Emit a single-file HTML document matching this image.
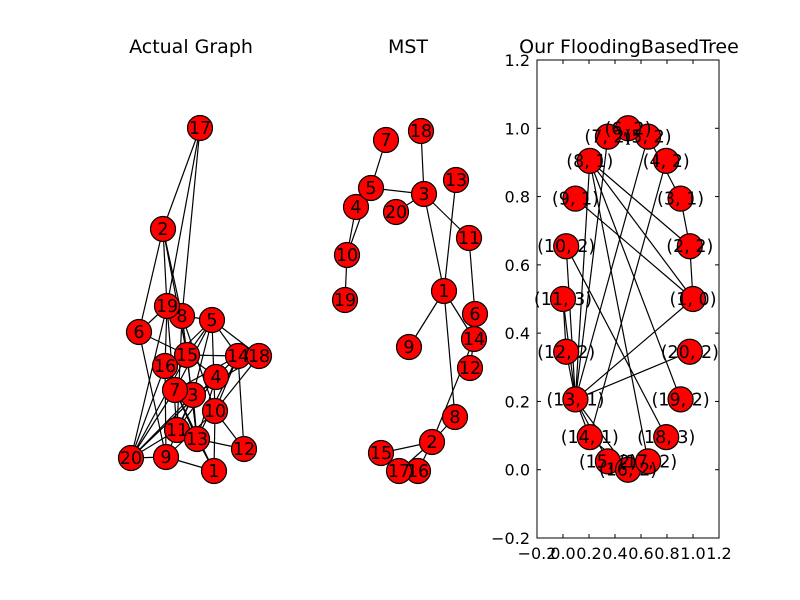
<!DOCTYPE html>
<html><head><meta charset="utf-8"><style>
body{margin:0;background:#fff}
svg{display:block;font-family:"DejaVu Sans","Liberation Sans",sans-serif}
</style></head><body>
<svg id="c" width="800" height="600" viewBox="0 0 800 600">
<rect width="800" height="600" fill="#fff"/>
<text x="191" y="53" font-size="19" text-anchor="middle">Actual Graph</text>
<text x="408" y="53" font-size="19" text-anchor="middle">MST</text>
<text x="629" y="53" font-size="19" text-anchor="middle">Our FloodingBasedTree</text>
<g id="g1"></g><g id="g2"></g><g id="g3"></g>
</svg>
<script>
// Panel 1: actual graph (layout positions in px)
const p1Nodes = {17:[200,128],2:[163,229],19:[167,306],8:[182,316],5:[212,320],6:[139,332],15:[187,355],14:[238,356],18:[259,356],16:[165,366],4:[216,377],7:[175,390],3:[193,395],10:[215,411],11:[177,430],13:[197,439],12:[244,449],20:[131,458],9:[166,457],1:[214,471]};
const p1Edges = [[17,2],[17,19],[17,8],[2,6],[2,19],[2,8],[2,15],[6,19],[6,15],[6,9],[19,16],[19,11],[8,15],[8,13],[8,10],[5,14],[5,18],[5,15],[5,16],[5,10],[5,7],[5,3],[5,8],[15,14],[15,4],[15,20],[15,13],[14,4],[14,10],[14,13],[14,12],[18,3],[18,10],[16,20],[16,13],[4,11],[4,20],[4,13],[7,20],[7,13],[7,1],[3,20],[3,11],[3,9],[10,12],[10,1],[10,9],[11,20],[13,12],[13,1],[9,20],[9,1],[20,14],[16,9],[19,20],[8,11],[7,14],[3,13]];
// Panel 2: MST
const p2Nodes = {7:[386,140],18:[421,131],5:[371,188],3:[424,194],13:[456,180],4:[356,207],20:[396,212],11:[469,238],10:[347,255],19:[345,300],1:[444,291],6:[475,314],9:[409,347],14:[474,339],12:[470,368],8:[455,417],2:[432,442],15:[381,453],17:[399,471],16:[418,471]};
const p2Edges = [[7,5],[5,3],[5,10],[4,10],[10,19],[18,3],[3,20],[3,11],[3,1],[13,1],[11,6],[1,9],[1,14],[1,8],[6,14],[14,12],[14,2],[8,2],[2,15],[2,17],[2,16]];
// Panel 3: flooding tree (data coords)
const p3Labels = ["(1, 0)","(2, 2)","(3, 1)","(4, 2)","(5, 2)","(6, 2)","(7, 2)","(8, 1)","(9, 1)","(10, 2)","(11, 3)","(12, 2)","(13, 1)","(14, 1)","(15, 2)","(16, 2)","(17, 2)","(18, 3)","(19, 2)","(20, 2)"];
const p3Edges = [[1,2],[2,3],[3,5],[8,2],[8,1],[9,1],[8,19],[8,17],[10,18],[13,10],[13,11],[13,12],[11,12],[13,7],[13,8],[13,5],[4,14],[13,1],[13,20],[13,14],[13,15],[13,16],[14,16]];
const xTicks = [-0.2,0.0,0.2,0.4,0.6,0.8,1.0,1.2];
const yTicks = [-0.2,0.0,0.2,0.4,0.6,0.8,1.0,1.2];

const NS="http://www.w3.org/2000/svg";
function mk(parent,tag,attrs){const e=document.createElementNS(NS,tag);for(const k in attrs)e.setAttribute(k,attrs[k]);parent.appendChild(e);return e;}
function drawGraph(g,nodes,edges,labels,prefix){
  edges.forEach(([a,b])=>{
    const l=mk(g,'line',{x1:nodes[a][0],y1:nodes[a][1],x2:nodes[b][0],y2:nodes[b][1],stroke:'#000','stroke-width':1.2});
    
    
  });
  Object.keys(nodes).forEach(k=>{
    const [x,y]=nodes[k];
    const c=mk(g,'circle',{cx:x,cy:y,r:12.5,fill:'#ff0000',stroke:'#000','stroke-width':1.2});
    
    
  });
  Object.keys(nodes).forEach(k=>{
    const [x,y]=nodes[k];
    const t=mk(g,'text',{x:x,y:y+6,'font-size':17.5,'text-anchor':'middle'});
    t.textContent=labels?labels[k]:k;
    
    
  });
}
drawGraph(document.getElementById('g1'),p1Nodes,p1Edges,null,'actual');
drawGraph(document.getElementById('g2'),p2Nodes,p2Edges,null,'mst');

// panel 3 axes
const L=537,R=719,T=60,B=538;
const sx=v=>L+(v+0.2)/1.4*(R-L);
const sy=v=>B-(v+0.2)/1.4*(B-T);
const g3=document.getElementById('g3');
const n3={},lab3={};
p3Labels.forEach((s,i)=>{const a=i*2*Math.PI/20;n3[i+1]=[sx(0.5+0.5*Math.cos(a)),sy(0.5+0.5*Math.sin(a))];lab3[i+1]=s;});
drawGraph(g3,n3,p3Edges,lab3,'tree');
const fr=mk(g3,'rect',{x:L,y:T,width:R-L,height:B-T,fill:'none',stroke:'#000','stroke-width':1});


xTicks.forEach(v=>{
  const x=sx(v);
  mk(g3,'line',{x1:x,y1:B,x2:x,y2:B-4,stroke:'#000'});
  mk(g3,'line',{x1:x,y1:T,x2:x,y2:T+4,stroke:'#000'});
  const t=mk(g3,'text',{x:x,y:B+21,'font-size':16,'text-anchor':'middle'});
  t.textContent=(v<0?'\u2212':'')+Math.abs(v).toFixed(1);
  
  
});
yTicks.forEach(v=>{
  const y=sy(v);
  mk(g3,'line',{x1:L,y1:y,x2:L+4,y2:y,stroke:'#000'});
  mk(g3,'line',{x1:R,y1:y,x2:R-4,y2:y,stroke:'#000'});
  const t=mk(g3,'text',{x:L-7,y:y+6,'font-size':16,'text-anchor':'end'});
  t.textContent=(v<0?'\u2212':'')+Math.abs(v).toFixed(1);
  
  
});
</script>
</body></html>
